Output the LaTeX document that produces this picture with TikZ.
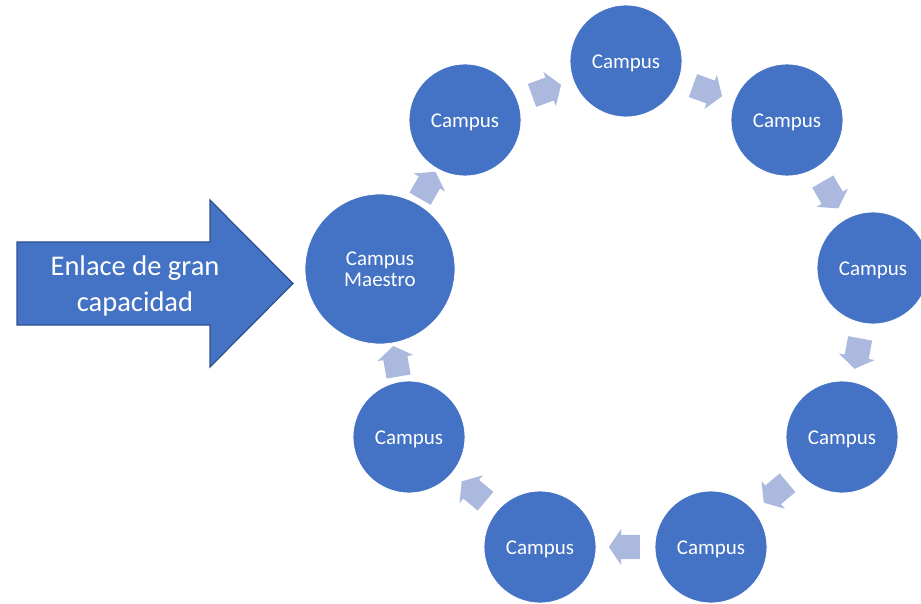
\documentclass[tikz,border=0pt]{standalone}
\usepackage{fontspec}
\setmainfont{Carlito}
\usetikzlibrary{shapes.arrows}
\definecolor{campusblue}{RGB}{68,114,196}
\definecolor{arrowlight}{RGB}{171,185,223}
\definecolor{bigborder}{RGB}{47,82,143}
\begin{document}
\begin{tikzpicture}[x=1pt,y=-1pt,
  campus/.style={circle, fill=campusblue, draw=white, line width=0.8pt,
    minimum size=112pt, inner sep=0pt, text=white,
    font=\fontsize{21}{21}\selectfont},
  campustext/.style={text height=15pt, text depth=0pt},
  cyclearrow/.style={shape=single arrow, fill=arrowlight, draw=none,
    minimum height=31pt, inner xsep=0pt, inner ysep=12pt, single arrow head extend=6pt,
    single arrow tip angle=112, sloped, allow upside down, midway, xshift=-3pt},
  bigarrow/.style={fill=campusblue, draw=bigborder, line width=1.2pt, line join=miter},
  bigtext/.style={text=white, font=\fontsize{28.5}{36}\selectfont, align=center, inner sep=0pt}]
\useasboundingbox (0,0) rectangle (921,604);
\clip (0,0) rectangle (921,604);

% input link
\coordinate (tail) at (17,283.5);
\coordinate (tip) at (293,283.5);
\draw[bigarrow] (tail) ++(0,-41.5) -- (210,242) -- (210,200) -- (tip)
  -- (210,367) -- (210,325) -- (17,325) -- cycle;
\node[bigtext] (linktext) at (135,286) {Enlace de gran\\capacidad};

% campuses
\node[campus, minimum size=150pt, align=center] (m) at (380,269) {Campus\\Maestro};
\node[campus, campustext] (c1) at (465,120) {Campus};
\node[campus, campustext] (c2) at (626,61) {Campus};
\node[campus, campustext] (c3) at (787,120) {Campus};
\node[campus, campustext] (c4) at (873,268) {Campus};
\node[campus, campustext] (c5) at (842,437) {Campus};
\node[campus, campustext] (c6) at (711,547) {Campus};
\node[campus, campustext] (c7) at (540,547) {Campus};
\node[campus, campustext] (c8) at (409,437) {Campus};

% cycle arrows
\path (m) -- node[cyclearrow] (a0) {} (c1);
\path (c1) -- node[cyclearrow] (a1) {} (c2);
\path (c2) -- node[cyclearrow] (a2) {} (c3);
\path (c3) -- node[cyclearrow] (a3) {} (c4);
\path (c4) -- node[cyclearrow] (a4) {} (c5);
\path (c5) -- node[cyclearrow] (a5) {} (c6);
\path (c6) -- node[cyclearrow] (a6) {} (c7);
\path (c7) -- node[cyclearrow] (a7) {} (c8);
\path (c8) -- node[cyclearrow] (a8) {} (m);
\end{tikzpicture}
\end{document}
